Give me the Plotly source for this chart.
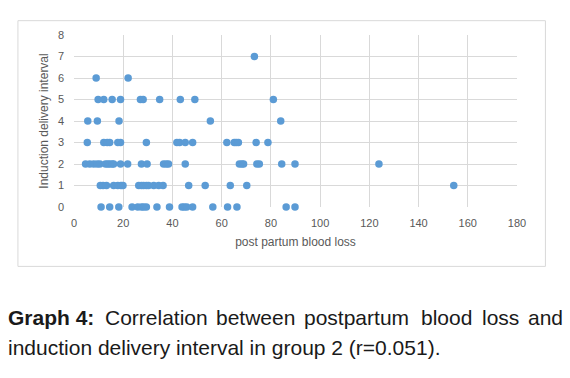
import plotly.graph_objects as go

# Post partum blood loss values, grouped by induction-delivery interval
loss_at_0 = [11.0, 14.5, 18.2, 23.6, 25.9, 27.4, 28.3, 29.4, 33.7, 38.8, 43.9, 44.8, 45.8, 48.2, 56.4, 62.4, 66.2, 86.2, 89.8]
loss_at_1 = [10.7, 11.8, 13.2, 16.1, 17.8, 19.1, 19.9, 26.3, 27.4, 28.3, 29.4, 30.3, 32.4, 34.4, 36.2, 46.6, 53.3, 63.5, 70.2, 154.3]
loss_at_2 = [4.7, 6.4, 8.0, 9.4, 10.5, 12.8, 13.7, 14.5, 15.5, 16.1, 18.9, 21.8, 27.4, 29.7, 36.4, 37.5, 38.4, 45.2,
             67.2, 68.2, 68.9, 74.3, 75.3, 84.4, 89.8, 123.9]
loss_at_3 = [5.4, 12.1, 13.5, 14.5, 17.8, 18.9, 29.4, 41.8, 42.9, 45.2, 48.2, 62.1, 65.1, 65.9, 66.8, 74.0, 78.8]
loss_at_4 = [5.6, 9.5, 18.3, 55.4, 84.0]
loss_at_5 = [9.8, 12.1, 15.5, 18.9, 27.0, 28.1, 34.8, 43.2, 49.1, 81.0]
loss_at_6 = [9.0, 22.0]
loss_at_7 = [73.3]

groups = [loss_at_0, loss_at_1, loss_at_2, loss_at_3, loss_at_4, loss_at_5, loss_at_6, loss_at_7]
blood_loss = []
interval = []
for k, g in enumerate(groups):
    blood_loss += g
    interval += [k] * len(g)

x_ticks = [0, 20, 40, 60, 80, 100, 120, 140, 160, 180]
y_ticks = [0, 1, 2, 3, 4, 5, 6, 7, 8]

W, H = 570, 378
L, R, T, B = 73.5, 52.5, 35, 171.3
PW, PH = W - L - R, H - T - B


def px_x(p):
    return (p - L) / PW


def px_y(p):
    return (H - B - p) / PH


fig = go.Figure()
fig.add_trace(go.Scatter(
    x=blood_loss, y=interval, mode="markers",
    marker=dict(color="#5B9BD5", size=7.5),
    cliponaxis=False, showlegend=False, hoverinfo="x+y",
))

tick_font = dict(family="Liberation Sans, Arial, sans-serif", size=11, color="#595959")
title_font = dict(family="Liberation Sans, Arial, sans-serif", size=12, color="#595959")

fig.update_xaxes(
    range=[0, 180], tickvals=x_ticks, showgrid=True, gridcolor="#D9D9D9", gridwidth=1,
    zeroline=False, showline=False, tickfont=tick_font, ticklabelstandoff=8,
    title=dict(text="post partum blood loss", font=title_font, standoff=9),
    fixedrange=True,
)
fig.update_yaxes(
    range=[0, 8], tickvals=y_ticks, showgrid=True, gridcolor="#D9D9D9", gridwidth=1,
    zeroline=False, showline=False, tickfont=tick_font, ticklabelstandoff=9,
    title=dict(text="Induction delivery interval", font=title_font, standoff=6),
    fixedrange=True,
)

# chart area border
fig.add_shape(type="rect", xref="paper", yref="paper",
              x0=px_x(17.3), x1=px_x(546), y0=px_y(266), y1=px_y(20.7),
              line=dict(color="#D9D9D9", width=1), layer="below")

cap_font = dict(family="Liberation Sans, Arial, sans-serif", size=21, color="#1a1a1a")
line1 = [
    ("<b>Graph 4:</b>", 5.5, "left"),
    ("Correlation", 102.5, "left"),
    ("between", 214, "left"),
    ("postpartum", 302.5, "left"),
    ("blood", 419.5, "left"),
    ("loss", 480.5, "left"),
    ("and", 566, "right"),
]
for txt, xpos, anchor in line1:
    fig.add_annotation(text=txt, xref="paper", yref="paper", x=px_x(xpos), y=px_y(317),
                       xanchor=anchor, yanchor="middle", showarrow=False, font=cap_font)
fig.add_annotation(text="induction delivery interval in group 2 (r=0.051).", xref="paper", yref="paper",
                   x=px_x(5.5), y=px_y(346.5), xanchor="left", yanchor="middle",
                   showarrow=False, font=cap_font)

fig.update_layout(
    width=W, height=H, margin=dict(l=L, r=R, t=T, b=B, autoexpand=False),
    paper_bgcolor="white", plot_bgcolor="white",
)

fig.write_html("out.html", post_script="document.body.style.margin='0';",
               config={"displayModeBar": False})
